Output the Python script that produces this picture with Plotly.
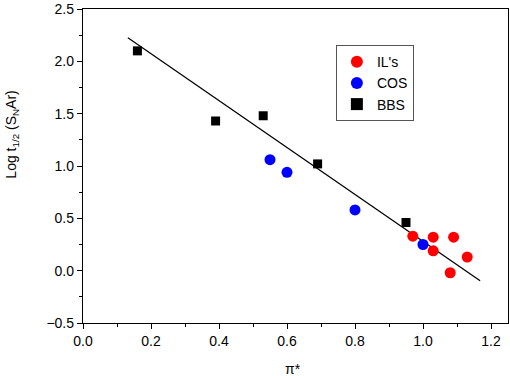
import plotly.graph_objects as go

# Data
ils_x = [0.97, 1.03, 1.03, 1.08, 1.09, 1.13]
ils_y = [0.33, 0.32, 0.19, -0.02, 0.32, 0.13]

cos_x = [0.55, 0.60, 0.80, 1.00]
cos_y = [1.06, 0.94, 0.58, 0.25]

bbs_x = [0.16, 0.39, 0.53, 0.69, 0.95]
bbs_y = [2.10, 1.43, 1.48, 1.02, 0.46]

fit_x = [0.132, 1.168]
fit_y = [2.226, -0.097]

x_title = "π*"
y_title = "Log t<sub>1/2</sub> (S<sub>N</sub>Ar)"

font = "Liberation Sans, Arial, sans-serif"

fig = go.Figure()
fig.add_trace(go.Scatter(x=fit_x, y=fit_y, mode="lines",
                         line=dict(color="black", width=1.3), showlegend=False))
fig.add_trace(go.Scatter(x=ils_x, y=ils_y, mode="markers", name="IL's",
                         marker=dict(symbol="circle", size=11, color="#ff0000")))
fig.add_trace(go.Scatter(x=cos_x, y=cos_y, mode="markers", name="COS",
                         marker=dict(symbol="circle", size=11, color="#0000ff")))
fig.add_trace(go.Scatter(x=bbs_x, y=bbs_y, mode="markers", name="BBS",
                         marker=dict(symbol="square", size=9, color="black")))

axis_common = dict(showgrid=False, zeroline=False, showline=True, linecolor="black",
                   linewidth=1.3, mirror=True, ticks="outside", ticklen=5, tickwidth=1.3,
                   tickcolor="black", automargin=False,
                   tickfont=dict(family=font, size=14, color="black"))

fig.update_xaxes(range=[0, 1.25], dtick=0.2, tick0=0, tickformat=".1f",
                 minor=dict(ticks="outside", dtick=0.1, ticklen=3, tickwidth=1.3, tickcolor="black"),
                 **axis_common)
fig.update_yaxes(range=[-0.5, 2.5], dtick=0.5, tick0=0, tickformat=".1f",
                 minor=dict(ticks="outside", dtick=0.25, ticklen=3, tickwidth=1.3, tickcolor="black"),
                 **axis_common)

fig.add_annotation(text=x_title, xref="paper", yref="paper", x=0.494, y=-0.146,
                   xanchor="center", yanchor="middle", showarrow=False,
                   font=dict(family=font, size=14, color="black"))
fig.add_annotation(text=y_title, xref="paper", yref="paper", x=-0.167, y=0.60,
                   xanchor="center", yanchor="middle", showarrow=False, textangle=-90,
                   font=dict(family=font, size=14, color="black"))

fig.update_layout(
    width=510, height=376,
    margin=dict(l=83, r=2, t=9, b=53),
    plot_bgcolor="white", paper_bgcolor="white",
    font=dict(family=font, size=14, color="black"),
    legend=dict(x=0.595, y=0.885, xanchor="left", yanchor="top",
                bordercolor="#555555", borderwidth=1, bgcolor="white",
                font=dict(family=font, size=14, color="black"),
                tracegroupgap=0, itemsizing="constant"),
)

fig.write_html("out.html", config={"displayModeBar": False},
               post_script="document.body.style.margin='0';document.body.style.overflow='hidden';")
